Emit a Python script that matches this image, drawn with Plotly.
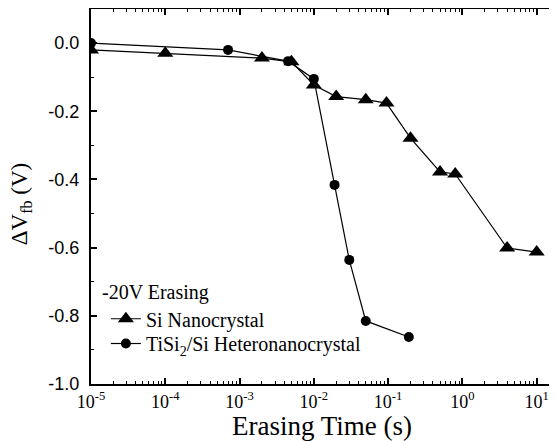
import plotly.graph_objects as go

# Data
si_t = [1e-5, 1e-4, 2e-3, 5e-3, 1e-2, 2e-2, 5e-2, 0.095, 0.2, 0.5, 0.8, 4, 10]
si_v = [-0.02, -0.03, -0.044, -0.055, -0.123, -0.157, -0.166, -0.176, -0.279, -0.378, -0.384, -0.601, -0.613]
hx_t = [1e-5, 7e-4, 4.5e-3, 1e-2, 1.9e-2, 3e-2, 5e-2, 0.19]
hx_v = [0.0, -0.02, -0.053, -0.105, -0.416, -0.636, -0.815, -0.862]

x_tickvals = [1e-5, 1e-4, 1e-3, 1e-2, 1e-1, 1, 10]
x_ticktext = ["10<sup>-5</sup>", "10<sup>-4</sup>", "10<sup>-3</sup>", "10<sup>-2</sup>",
              "10<sup>-1</sup>", "10<sup>0</sup>", "10<sup>1</sup>"]
x_minor = [m * 10 ** e for e in range(-5, 2) for m in range(2, 10)]
y_tickvals = [0.0, -0.2, -0.4, -0.6, -0.8, -1.0]
y_ticktext = ["0.0", "-0.2", "-0.4", "-0.6", "-0.8", "-1.0"]
y_minor = [-0.1, -0.3, -0.5, -0.7, -0.9]

serif = "Liberation Serif"
sans = "Liberation Sans"

fig = go.Figure()
fig.add_trace(go.Scatter(
    x=si_t, y=si_v, name="Si Nanocrystal", mode="lines+markers",
    line=dict(color="black", width=1.2),
    marker=dict(symbol="triangle-up", size=14, color="black"),
    legend="legend",
))
fig.add_trace(go.Scatter(
    x=hx_t, y=hx_v, name="TiSi<sub>2</sub>/Si Heteronanocrystal", mode="lines+markers",
    line=dict(color="black", width=1.2),
    marker=dict(symbol="circle", size=10, color="black"),
    legend="legend2",
))
# invisible trace to drive right-side ticks
fig.add_trace(go.Scatter(x=[1e-5], y=[0], yaxis="y2", showlegend=False,
                         mode="markers", marker=dict(opacity=0), hoverinfo="skip"))

legend_common = dict(xanchor="left", yanchor="top",
                     font=dict(family=serif, size=20, color="black"),
                     bgcolor="rgba(0,0,0,0)", itemwidth=30)

fig.update_layout(
    width=549, height=433,
    margin=dict(l=83, r=1, t=1, b=57),
    paper_bgcolor="white", plot_bgcolor="white",
    showlegend=True,
    legend=dict(x=0.032, y=0.226, **legend_common),
    legend2=dict(x=0.032, y=0.16, **legend_common),
    xaxis=dict(
        type="log", range=[-5, 1.26], automargin=False,
        tickmode="array", tickvals=x_tickvals, ticktext=x_ticktext,
        ticks="inside", ticklen=6, tickwidth=1.5, tickcolor="black",
        minor=dict(tickmode="array", tickvals=x_minor, ticks="inside", ticklen=3,
                   tickwidth=1, tickcolor="black", showgrid=False),
        showline=True, linewidth=2, linecolor="black", mirror="ticks",
        showgrid=False, zeroline=False,
        tickfont=dict(family=serif, size=18, color="black"),
    ),
    yaxis=dict(
        range=[-1.0, 0.1], automargin=False,
        tickmode="array", tickvals=y_tickvals, ticktext=y_ticktext,
        ticks="inside", ticklen=6, tickwidth=1.5, tickcolor="black",
        minor=dict(tickmode="array", tickvals=y_minor, ticks="inside", ticklen=3,
                   tickwidth=1, tickcolor="black", showgrid=False),
        showline=True, linewidth=2, linecolor="black", mirror=False,
        showgrid=False, zeroline=False, ticklabelstandoff=6,
        tickfont=dict(family=sans, size=18, color="black"),
    ),
    yaxis2=dict(
        overlaying="y", side="right", range=[-1.0, 0.1], automargin=False,
        tickmode="array", tickvals=y_tickvals, showticklabels=False,
        ticks="inside", ticklen=6, tickwidth=1.5, tickcolor="black",
        minor=dict(tickmode="array", tickvals=y_minor, ticks="inside", ticklen=3,
                   tickwidth=1, tickcolor="black", showgrid=False),
        showline=False, showgrid=False, zeroline=False,
    ),
    annotations=[
        dict(text="-20V Erasing", xref="paper", yref="paper", x=0.019, y=0.245,
             xanchor="left", yanchor="middle", showarrow=False,
             font=dict(family=serif, size=20, color="black")),
        dict(text="Erasing Time (s)", xref="paper", yref="paper", x=0.497, y=-0.112,
             xanchor="center", yanchor="middle", showarrow=False,
             font=dict(family=serif, size=27, color="black")),
        dict(text="ΔV<sub>fb</sub> (V)", xref="paper", yref="paper", x=-0.15, y=0.48,
             xanchor="center", yanchor="middle", showarrow=False, textangle=-90,
             font=dict(family=serif, size=23, color="black")),
    ],
)

fig.write_html("out.html")
